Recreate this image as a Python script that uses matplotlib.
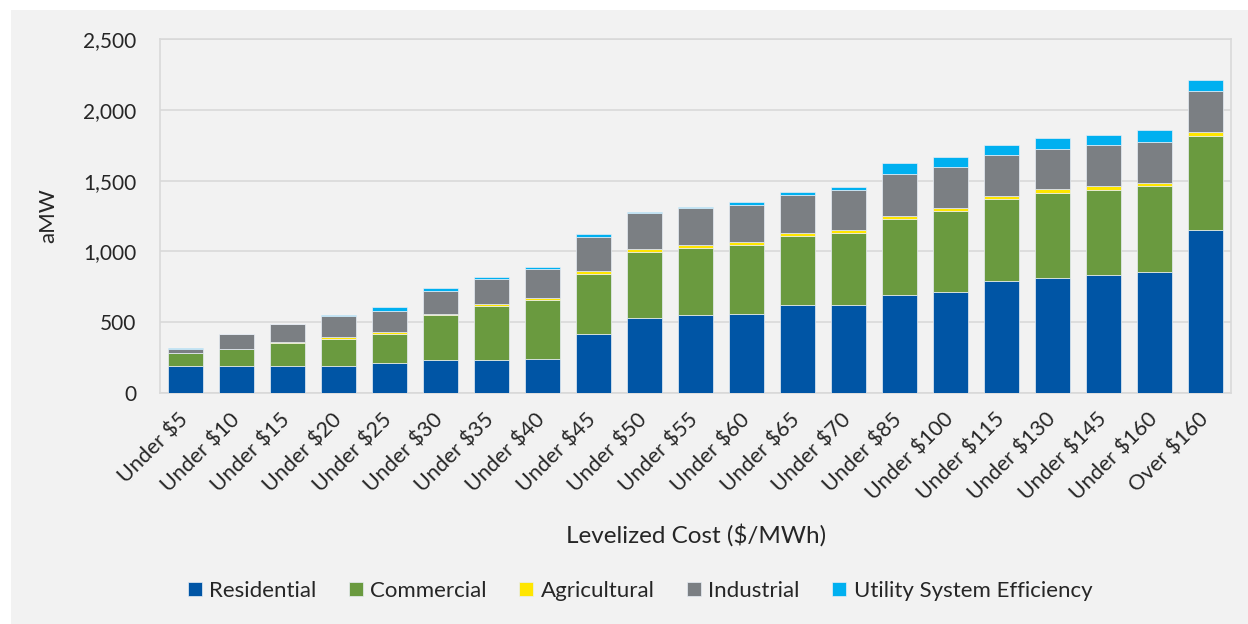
import numpy as np
import matplotlib
matplotlib.use("Agg")
import matplotlib.pyplot as plt
from matplotlib.patches import Rectangle
from matplotlib.ticker import FuncFormatter

# cumulative conservation potential by levelized cost bin (aMW)
categories = ["Under $5", "Under $10", "Under $15", "Under $20", "Under $25",
              "Under $30", "Under $35", "Under $40", "Under $45", "Under $50",
              "Under $55", "Under $60", "Under $65", "Under $70", "Under $85",
              "Under $100", "Under $115", "Under $130", "Under $145",
              "Under $160", "Over $160"]

residential = [190, 190, 190, 190, 210, 230, 230, 241, 420, 530, 551,
               561, 624, 624, 695, 714, 788, 809, 830, 851, 1149]
commercial = [91, 120, 162, 193, 206, 321, 382, 414, 422, 468, 475,
              487, 485, 504, 537, 570, 579, 601, 601, 611, 665]
agricultural = [2, 2, 10, 12, 18, 9, 19, 19, 19, 19, 19,
                21, 19, 21, 21, 21, 21, 31, 31, 21, 31]
industrial = [29, 102, 125, 146, 146, 157, 171, 199, 239, 253, 265,
              260, 272, 282, 291, 291, 291, 281, 290, 288, 291]
utility = [3, 3, 3, 8, 24, 21, 19, 19, 21, 7, 7,
           19, 19, 21, 83, 73, 73, 80, 71, 85, 71]

series = [
    ("Residential", residential, "#0055a5"),
    ("Commercial", commercial, "#6a9a3f"),
    ("Agricultural", agricultural, "#ffe600"),
    ("Industrial", industrial, "#7b7f83"),
    ("Utility System Efficiency", utility, "#00b0f0"),
]

plt.rcParams["font.family"] = ["Lato", "DejaVu Sans"]
text_color = "#262626"
bg = "#f2f2f2"

fig = plt.figure(figsize=(12.48, 6.24), dpi=100)
fig.patch.set_facecolor("white")
# grey chart area with a thin white margin at left and top
fig.patches.append(Rectangle((11 / 1248, 0), 1 - 11 / 1248, 1 - 10 / 624,
                             transform=fig.transFigure, facecolor=bg,
                             edgecolor="none", zorder=-10))

ax = fig.add_axes([160 / 1248, 1 - 393 / 624, 1071 / 1248, 354 / 624])
ax.set_facecolor(bg)

x = np.arange(len(categories))
bottom = np.zeros(len(categories))
for name, vals, col in series:
    vals = np.array(vals, dtype=float)
    ax.bar(x, vals, 0.69, bottom=bottom, color=col, label=name,
           edgecolor="#e8eef5", linewidth=0.5, zorder=3)
    bottom += vals

ax.set_xlim(-0.5, len(categories) - 0.5)
ax.set_ylim(0, 2500)
ax.set_yticks(np.arange(0, 2501, 500))
ax.yaxis.set_major_formatter(FuncFormatter(lambda v, p: f"{v:,.0f}"))
ax.grid(axis="y", color="#d9d9d9", linewidth=1.2, zorder=0)
for s in ax.spines.values():
    s.set_color("#d9d9d9")
    s.set_linewidth(1.2)

ax.set_xticks(x)
ax.set_xticklabels(categories, rotation=45, ha="right", va="center",
                   rotation_mode="anchor")
ax.tick_params(axis="x", length=0, pad=17, labelsize=15.5, labelcolor=text_color)
ax.tick_params(axis="y", length=0, pad=17, labelsize=15, labelcolor=text_color)

ax.set_ylabel("aMW", fontsize=16, color=text_color)
ax.yaxis.set_label_coords(-(160 - 58) / 1071, 0.5)
fig.text(696 / 1248, 1 - 535 / 624, "Levelized Cost ($/MWh)", fontsize=17.5,
         color=text_color, ha="center", va="center")

fig.legend(loc="center", bbox_to_anchor=(640 / 1248, 1 - 591 / 624), ncol=5,
           frameon=False, fontsize=16, handlelength=0.62, handleheight=0.62,
           handletextpad=0.35, columnspacing=1.45, labelcolor=text_color)

fig.savefig("out.png", dpi=100, facecolor=fig.get_facecolor())
